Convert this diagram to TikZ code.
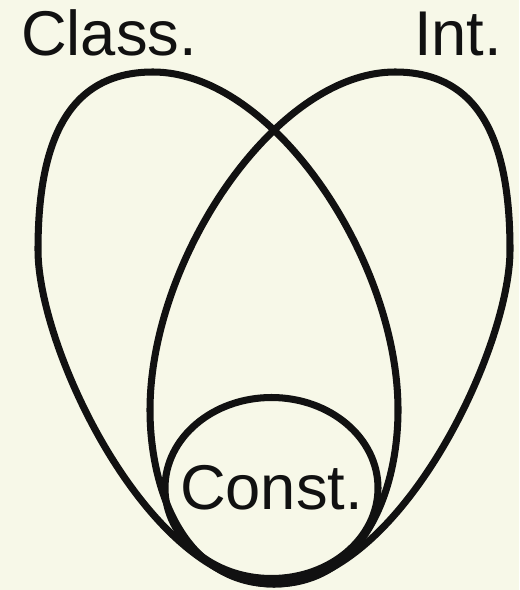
\documentclass[tikz,border=0pt]{standalone}
\usepackage{fontspec}
\setmainfont{Liberation Sans}
\usepackage{tikz}
\definecolor{vpaper}{HTML}{F7F8E8}
\definecolor{vink}{HTML}{111111}

\begin{document}
\begin{tikzpicture}[x=0.025cm,y=-0.025cm,
  loop/.style={draw=vink,line width=5pt},
  lbl/.style={font=\fontsize{45}{54}\selectfont,text=vink,inner sep=0pt}
]
\fill[vpaper] (0,0) rectangle (519,590);
\useasboundingbox (0,0) rectangle (519,590);

\node[lbl,anchor=base] (class) at (109,56) {Class.};
\node[lbl,anchor=base] (int) at (458,56) {Int.};
\node[lbl] (const) at (271.5,488) {Const.};

% both loops close at the bottom of the circle
\coordinate (tip) at (274,584);
\draw[loop] (tip) .. controls (150,584) and (38,350) .. (38,250)
  .. controls (38,150) and (63,72) .. (153,72)
  .. controls (273,72) and (398,260) .. (398,410)
  .. controls (398,490) and (364,584) .. cycle;
\draw[loop] (tip) .. controls (398,584) and (510,350) .. (510,250)
  .. controls (510,150) and (485,72) .. (395,72)
  .. controls (275,72) and (150,260) .. (150,410)
  .. controls (150,490) and (184,584) .. cycle;
\draw[loop] (const) ellipse [x radius=106.5,y radius=90.5];
\end{tikzpicture}
\end{document}
